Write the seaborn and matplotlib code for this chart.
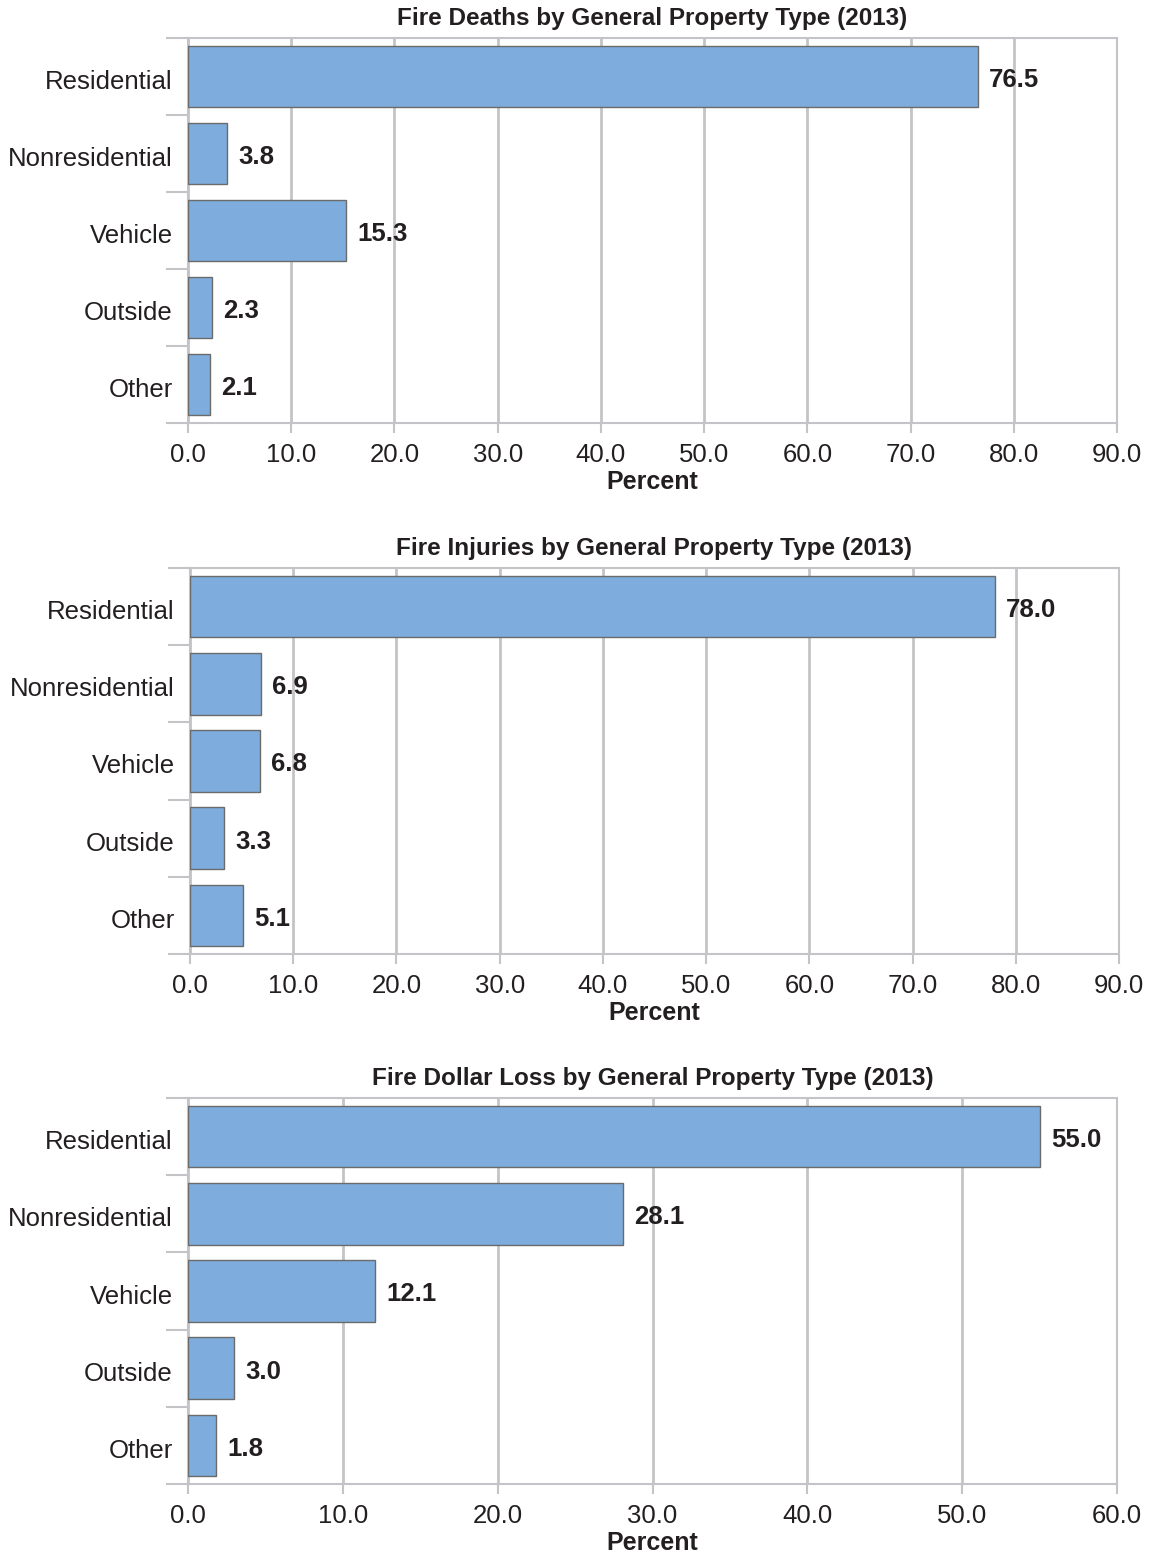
import matplotlib
matplotlib.use("Agg")
import matplotlib.pyplot as plt
import matplotlib.transforms as mtransforms
import seaborn as sns
import pandas as pd
import numpy as np

# -------------------- Data --------------------
categories = ["Residential", "Nonresidential", "Vehicle", "Outside", "Other"]
deaths = [76.5, 3.8, 15.3, 2.3, 2.1]
injuries = [78.0, 6.9, 6.8, 3.3, 5.1]
dollar_loss = [55.0, 28.1, 12.1, 3.0, 1.8]

titles = [
    "Fire Deaths by General Property Type (2013)",
    "Fire Injuries by General Property Type (2013)",
    "Fire Dollar Loss by General Property Type (2013)",
]
x_max = [90, 90, 60]

# -------------------- Style --------------------
sns.set_style("white")
plt.rcParams["font.family"] = ["Liberation Sans", "DejaVu Sans"]

BAR = "#7eacdc"
EDGE = "#6b6b6b"
GRID = "#c4c4c8"
TEXT = "#231f20"

fig = plt.figure(figsize=(11.51, 15.55), dpi=100)
# small downward nudge so labels sit like the original
nudge = mtransforms.ScaledTranslation(0, -3 / 100, fig.dpi_scale_trans)

# axes boxes in pixels: (left, top, right, bottom)
boxes = [(188, 38, 1117, 423), (190, 568, 1119, 954), (188, 1098, 1117, 1484)]
W, H = 1151, 1555

for values, title, xm, (l, t, r, b) in zip([deaths, injuries, dollar_loss], titles, x_max, boxes):
    ax = fig.add_axes([l / W, 1 - b / H, (r - l) / W, (b - t) / H])
    df = pd.DataFrame({"category": categories, "value": values})
    sns.barplot(data=df, x="value", y="category", orient="h", color=BAR,
                edgecolor=EDGE, linewidth=1.0, width=0.8, saturation=1, ax=ax, zorder=3)

    ax.set_xlim(0, xm)
    ax.set_ylim(4.5, -0.5)
    ax.set_xticks(np.arange(0, xm + 1, 10))
    ax.set_xticklabels([f"{v:.1f}" for v in np.arange(0, xm + 1, 10)], fontsize=18.5, color=TEXT)
    ax.grid(axis="x", color=GRID, linewidth=2, zorder=0)
    ax.set_axisbelow(True)

    # category labels without ticks, tick marks at the category boundaries
    ax.set_yticks(range(len(categories)))
    ax.set_yticklabels(categories, fontsize=18.5, color=TEXT)
    ax.set_yticks(np.arange(-0.5, len(categories)), minor=True)
    ax.tick_params(axis="y", which="major", left=True, length=0, pad=11)
    ax.tick_params(axis="y", which="minor", left=True, length=16, width=1.5, color=GRID)
    ax.tick_params(axis="x", which="major", bottom=True, length=7.5, width=1.5, color=GRID, pad=7)
    for lab in ax.get_yticklabels():
        lab.set_transform(lab.get_transform() + nudge)

    for s in ax.spines.values():
        s.set_color(GRID)
        s.set_linewidth(1.5)

    texts = ax.bar_label(ax.containers[0], fmt="%.1f", padding=8, fontsize=18.5,
                         fontweight="bold", color=TEXT)
    for txt in texts:
        dx, dy = txt.xyann
        txt.xyann = (dx, dy - 2.5)

    ax.set_title(title, fontsize=17.5, fontweight="bold", color=TEXT, pad=9)
    ax.set_xlabel("Percent", fontsize=18, fontweight="bold", color=TEXT, labelpad=2)
    ax.set_ylabel("")

fig.savefig("out.png", dpi=100)
